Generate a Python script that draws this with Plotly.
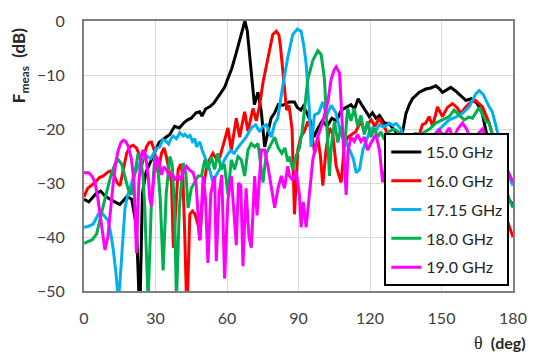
import plotly.graph_objects as go

# Measured far-field patterns (theta in degrees, normalised level in dB)
theta_15 = [0, 2, 5, 7, 9, 12, 15, 17, 18, 20, 22, 23.4, 24.5, 26, 28, 30, 31.5, 33, 34.5, 36, 38, 40, 42, 43.5, 45, 47,
            48.5, 49.5, 51, 53, 54.5, 56, 57.5, 59, 60.5, 62, 63.5, 65, 66.5, 67.5, 68.5, 69.5, 70.5, 71.5, 73, 74.4,
            75.8, 77.1, 78.5, 80, 81.5, 83.4, 86, 88.3, 89.5, 91, 92, 93.5, 95, 96.5, 98, 100, 102, 104, 106, 108,
            110, 112, 113.5, 115, 116.5, 118.3, 119.7, 121, 122.5, 124, 126, 128, 130, 132.3, 133.7, 135.1, 136.5,
            137.8, 140.7, 143.4, 145.5, 147.6, 149, 150.4, 152, 153.9, 156, 158.1, 160.2, 162.5, 165, 167, 168.6,
            170, 172, 175, 178, 180]
db_15 = [-33, -33.5, -32, -31.5, -32.5, -33.2, -34, -33, -32.5, -33, -38, -55, -32, -28, -26, -24, -22.5, -22, -21.5,
         -21, -19.5, -19.8, -18.8, -18.3, -18, -17, -16.8, -17.6, -16.3, -15.8, -15.2, -14.3, -13.3, -12.3, -10.5,
         -8.8, -6.5, -4, -1.5, 0, -1.8, -6, -11, -15.5, -13.2, -16.8, -23.3, -20.4, -18, -17, -15.5, -15.6, -15,
         -15, -16, -16.5, -15.8, -17, -18.5, -21.5, -20, -18.5, -19.5, -18, -18.5, -16.5, -16, -15.5, -16.3, -14.4,
         -15.5, -16.8, -17.7, -17, -18, -17.5, -18.9, -19, -20, -21.3, -20.5, -17.1, -15.5, -14.4, -13.2, -12.6,
         -12.4, -12, -12.5, -13.2, -12.8, -12.3, -13, -13.8, -14.7, -14.4, -15.3, -17, -20, -23, -27, -31, -33, -34]

theta_16 = [0, 1.5, 3, 4.6, 6.5, 8.1, 10, 10.9, 12.5, 14, 15.1, 16.5, 17.9, 19.3, 20.6, 22, 23, 24.1, 25.2, 26.2,
            27.3, 28.3, 29.5, 31.1, 32.5, 33.6, 34.5, 35.6, 36.7, 37.5, 38.1, 39.5, 40.6, 41.5, 42.3, 43.2, 44.4,
            45.5, 46.6, 48, 48.6, 50, 51.3, 52.5, 54.1, 55.5, 57, 58.5, 60.4, 61.8, 63.9, 65.3, 67.4, 68.8, 70.9,
            72.3, 73.7, 75.1, 77.2, 79.2, 80.7, 81.8, 82.5, 84, 85, 86, 87.3, 88.3, 89.7, 91, 92.5, 93.9, 95.3,
            96.8, 98.1, 99.2, 100.2, 101.5, 103, 104.4, 105.8, 107.9, 109.3, 110.8, 112.5, 114, 116.2, 117.7,
            119.2, 120.5, 122, 123.9, 125, 126.5, 128, 130, 132, 134, 136, 138, 140, 142, 143.4, 144.8, 146.3,
            148.3, 150.4, 152.5, 154.6, 156.5, 158.1, 160, 162.3, 164.3, 167.2, 170, 172, 174, 176, 177.6, 180]
db_16 = [-32.6, -31, -30.5, -29.9, -29, -28.7, -28, -27.8, -28.5, -30, -30.5, -27.5, -24.5, -23.3, -23, -23.5,
         -24.5, -26.9, -25, -23.3, -22.5, -22.4, -24, -28.1, -24.5, -23.5, -25, -27.5, -29.9, -42, -38, -27.5,
         -26.5, -29, -40, -55, -35.8, -35.2, -35.8, -38, -40.6, -31.1, -27.5, -25.8, -24.5, -25.5, -25.2, -23,
         -19.8, -23.9, -18, -21.5, -16.8, -20.4, -16.2, -18.5, -15.6, -11.4, -6.7, -2.5, -1.9, -2.6, -5, -12,
         -16.5, -15.6, -20, -35.8, -23.9, -21.5, -20.4, -18.6, -20, -24.5, -21.5, -25, -30.5, -24, -19.8, -21,
         -26.9, -29.9, -22.7, -21.5, -21, -20.5, -18.6, -20.5, -19, -18.3, -19.5, -18, -19, -20, -22, -24, -26,
         -24, -25, -23, -22, -19.2, -18.9, -17.7, -19.5, -15.9, -17.7, -16, -15.3, -16, -17.1, -16, -15, -14.7,
         -15.9, -18.9, -22, -26, -31, -37, -40]

theta_17 = [0, 2, 3.9, 5, 6, 8, 10.2, 11.3, 12.3, 13.5, 14.4, 15.3, 16.2, 17.2, 18.2, 19.3, 20.6, 22, 23.4, 24.8,
            26.2, 28, 29.7, 30.4, 31.8, 33, 34, 35.5, 36.5, 37.4, 38.8, 40.2, 41.6, 42.3, 43.5, 44.5, 45.5, 46.5,
            47.2, 48.6, 49.5, 50.7, 52.7, 54.1, 55.5, 57.5, 59.7, 61.5, 63, 64.5, 66, 68, 70.2, 72, 73.7, 75, 76.5,
            78.6, 80, 81.3, 83.4, 85.5, 87.6, 89.5, 91.1, 92.2, 93.2, 94.6, 95.3, 96.7, 98.5, 100.2, 101.8, 103.7,
            105.7, 107.8, 110, 112, 113, 114.2, 115.6, 117, 118.5, 119.8, 121.1, 122.5, 123.9, 125.5, 126.8,
            128.1, 129.5, 131, 133, 134.5, 137, 140, 143, 145.5, 147.6, 150.4, 153.2, 156, 158.8, 161.6, 164.4,
            165.8, 167.5, 170, 171.3, 172, 174.1, 176, 178, 180]
db_17 = [-38.2, -38, -37.6, -36.5, -35.8, -35.8, -37, -39.5, -42.4, -47, -52, -47, -40, -34.6, -32.5, -31.1, -29,
         -27.5, -26.3, -25.3, -25, -25.5, -24.2, -23.6, -23.3, -22, -22.1, -22.8, -21.8, -21.3, -21.8, -20.7,
         -21.3, -21, -21.5, -21.2, -22.3, -21.8, -23.3, -22.4, -23.8, -25.1, -27.5, -29.9, -28.5, -27, -25.1,
         -24, -24.5, -23.5, -22.7, -21.5, -19.8, -19.2, -20.5, -19.5, -19.2, -21.5, -19, -18, -12, -6.7, -2.5,
         -1.5, -1.9, -4.5, -7.9, -16.8, -23.3, -17.4, -17, -15, -17.5, -15.6, -17, -21, -22.4, -24.5, -25.5,
         -28.1, -27.5, -23.9, -22, -20.5, -19.8, -20.3, -19.2, -19.6, -19.4, -18.9, -19.3, -19, -20, -22.5, -24,
         -23, -22.5, -22, -20.7, -19.5, -18.3, -17.8, -17.1, -15.9, -13.5, -12.9, -13.6, -15.9, -16.8, -18,
         -21.5, -25, -28.5, -30.5]

theta_18 = [0, 2, 3.5, 5.3, 6.5, 7.5, 8.8, 10.2, 11.6, 13, 14.4, 15.8, 17.2, 18.5, 19.8, 21.4, 22.7, 23.8, 24.8,
            25.5, 26.9, 28.2, 29.7, 30.8, 32, 33.2, 34.5, 36, 37, 38, 38.8, 40, 41.6, 42.7, 43.7, 45, 46.5, 47.9,
            49.3, 50.7, 52, 53.4, 54.8, 56.2, 57.5, 58.9, 60.4, 61.8, 63.2, 64.6, 66, 67.4, 68.8, 70.2, 71.6, 73,
            75.1, 76.5, 78.6, 80, 81.5, 83, 84.3, 85.5, 86.2, 87.6, 89, 90.4, 91.5, 92.5, 93.9, 96, 98.1, 99.5,
            100.9, 101.6, 102.3, 103, 103.7, 105.1, 106.5, 107.9, 109.3, 110.6, 112, 113.4, 114.8, 116.2, 117.6,
            119, 120.4, 121.8, 123.2, 124.6, 126, 128, 130, 132, 133.5, 135, 137, 139.2, 140.5, 141.3, 143, 145,
            147.6, 150.4, 153.2, 155.3, 157, 159.5, 161.5, 163, 165.8, 168.6, 170, 172, 174, 176, 178, 180]
db_18 = [-41.2, -40.8, -40.5, -39.4, -37, -35, -32.9, -30.5, -28.1, -26.5, -25.7, -26.5, -29, -31.1, -32.2, -27.5,
         -24.5, -25.3, -29, -34.6, -52, -34.6, -25.1, -26, -33, -46.2, -32, -25.1, -26.5, -35, -52, -34.6, -26.3,
         -28, -34.6, -31, -29.8, -28.7, -28.7, -25.7, -27.5, -25.1, -27.5, -24.5, -27.5, -26.5, -32.2, -25.7,
         -27.5, -25.1, -25.7, -28.7, -23.9, -22.7, -23.3, -22.7, -29.9, -24.5, -22.7, -21.5, -23.5, -24.5, -23.5,
         -26, -25.1, -27.5, -25, -23.5, -20.5, -16.8, -10.8, -7.3, -5.5, -6.2, -10.8, -16.8, -23.9, -28.7, -23.5,
         -18.6, -22.5, -19.5, -23.5, -16.2, -18.5, -16.2, -19.5, -17.5, -21, -18.6, -21.5, -19.8, -21.5, -20.5,
         -22, -20.5, -20, -20.5, -21, -23, -22.5, -20.7, -21.8, -21, -20.5, -20, -18.9, -18.3, -17.7, -16.5,
         -17.2, -18.3, -17.8, -18, -16, -18.6, -18.9, -22, -25, -29, -32.5, -34.6]

theta_19 = [0, 2, 3.5, 4.6, 5.7, 6.7, 7.8, 8.8, 10, 11, 12.3, 13.4, 14.4, 15.5, 16.5, 17.5, 18.6, 19.9, 21, 22,
            23, 24, 24.8, 25.8, 27, 27.6, 28.3, 29.5, 30.4, 31.5, 32.5, 33.5, 34.5, 36, 37.2, 38.5, 39.6, 40.8, 42,
            43, 44, 45.8, 47, 48.6, 50, 51, 52, 53.2, 54.8, 55.5, 56.7, 57.8, 59, 60.4, 61.8, 63, 63.9, 64.8, 65.8,
            66.7, 68, 69.2, 70.2, 71.6, 72.6, 74.4, 75.8, 77.2, 78.6, 80, 81.4, 82.8, 84.1, 85.5, 86.2, 87.6, 89,
            90.4, 91.1, 92, 93.2, 94.6, 96, 98.1, 100.2, 102.3, 103.7, 105, 105.8, 107.2, 107.9, 109.3, 110, 110.8,
            112, 113.4, 114.8, 116.2, 117.6, 119, 120.5, 122.5, 124, 125.3, 127, 130, 133, 136, 139, 141.5, 143.4,
            145.5, 147.6, 149, 150.8, 152.5, 153.2, 155, 156.8, 158.8, 160.5, 162, 163.7, 165.5, 167.2, 168.6, 170,
            172.5, 175, 177.6, 180]
db_19 = [-28.1, -28.1, -28.8, -29.9, -32.5, -35.8, -39.5, -42.4, -40, -35, -29.9, -26, -23.9, -22.5, -22.1, -22.3,
         -23.2, -25.5, -30, -43, -30, -25, -23.9, -24.8, -29, -32.9, -34.3, -28, -25.1, -26, -28.5, -27, -27.5,
         -28.7, -28.5, -29.5, -28.5, -29.5, -27.5, -26.9, -27.5, -28.1, -30, -40.6, -28.7, -33, -44.8, -32, -28.7,
         -44.5, -32, -28.5, -47.7, -33, -28.7, -36, -41.5, -30, -30.5, -45.4, -31, -40, -42, -28.7, -36, -23.9,
         -23.9, -27, -31, -34.6, -31, -28.7, -31, -26.9, -28.7, -29.5, -27.8, -32.2, -38.2, -33.5, -38.2, -32.2,
         -25.7, -21.5, -18.6, -15, -10.8, -9, -8.5, -9.6, -15.6, -25.1, -32.2, -24, -21.5, -22.3, -21, -22.3,
         -21.5, -23.9, -22.5, -21, -24, -29.9, -26, -24, -25, -24, -23.5, -23, -21.8, -22.5, -21.3, -20, -21.5,
         -20.4, -19.8, -21.8, -20, -18.9, -20, -21.5, -22.1, -20.8, -20, -21.5, -23, -24.5, -26, -27.5, -29.9]

series = [
    ("15.0 GHz", theta_15, db_15, "#000000"),
    ("16.0 GHz", theta_16, db_16, "#ff0000"),
    ("17.15 GHz", theta_17, db_17, "#00b0f0"),
    ("18.0 GHz", theta_18, db_18, "#00b050"),
    ("19.0 GHz", theta_19, db_19, "#ff00ff"),
]

x_ticks = [0, 30, 60, 90, 120, 150, 180]
y_ticks = [0, -10, -20, -30, -40, -50]

FONT = "Lato, 'Open Sans', sans-serif"

fig = go.Figure()
for name, th, val, col in series:
    fig.add_trace(go.Scatter(
        x=th, y=val, mode="lines", name=name, legendgroup=name,
        line=dict(color=col, width=3),
    ))

axis_common = dict(
    showgrid=True, gridcolor="#d9d9d9", gridwidth=1,
    showline=True, linecolor="#7f7f7f", linewidth=2, mirror=True,
    zeroline=False, ticks="",
    tickfont=dict(family=FONT, size=16, color="#404040"),
)

fig.update_xaxes(range=[0, 180], tickvals=x_ticks, ticklabelstandoff=12, **axis_common)
fig.update_yaxes(range=[-50, 0], tickvals=y_ticks, ticklabelstandoff=14, **axis_common)

fig.update_layout(
    width=539, height=363,
    margin=dict(l=84, r=26, t=11, b=72),
    paper_bgcolor="white", plot_bgcolor="white",
    showlegend=True,
    legend=dict(
        x=0.70, y=0.585, xanchor="left", yanchor="top",
        bgcolor="white", bordercolor="#000000", borderwidth=2,
        font=dict(family=FONT, size=16, color="#262626"),
        itemwidth=30, tracegroupgap=5,
    ),
    annotations=[
        dict(text="<b>F<sub>meas</sub>  (dB)</b>", textangle=-90,
             xref="paper", yref="paper", x=-0.15, y=0.835,
             xanchor="center", yanchor="middle", showarrow=False,
             font=dict(family=FONT, size=17, color="#262626")),
        dict(text="<span style='font-family:\"Liberation Serif\", serif; font-size:18px'>θ</span>  <b>(deg)</b>",
             xref="paper", yref="paper", x=1.035, y=-0.193,
             xanchor="right", yanchor="middle", showarrow=False,
             font=dict(family=FONT, size=16, color="#262626")),
    ],
)

fig.write_html("out.html")
